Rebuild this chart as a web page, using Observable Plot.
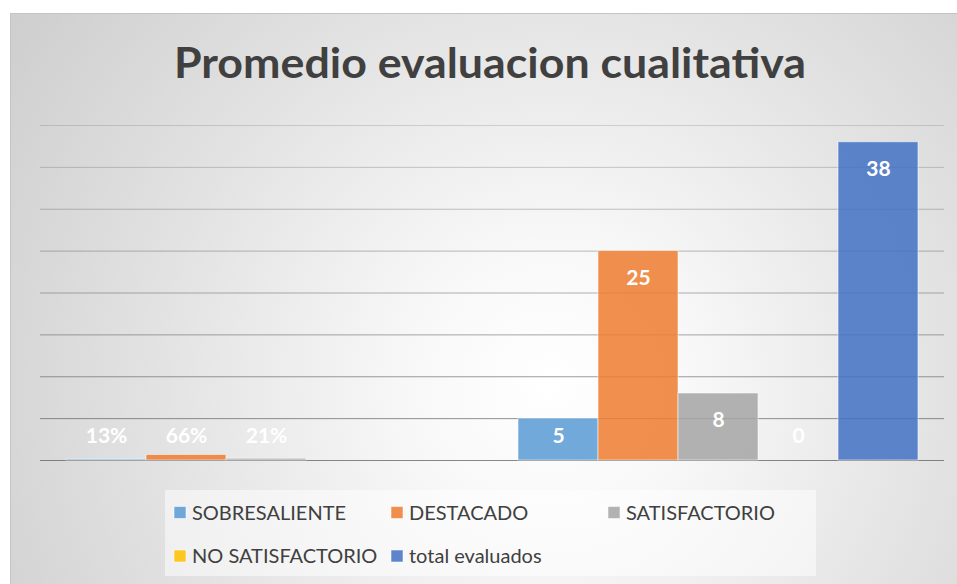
<!DOCTYPE html>
<html>
<head>
<meta charset="utf-8">
<script src="https://cdn.jsdelivr.net/npm/d3@7"></script>
<script src="https://cdn.jsdelivr.net/npm/@observablehq/plot@0.6"></script>
<style>
  html, body { margin: 0; padding: 0; background: #ffffff; }
  #wrap { position: relative; width: 957px; height: 584px; overflow: hidden; font-family: Lato, "Open Sans", sans-serif; }
  #frame { position: absolute; left: 10px; top: 13px; width: 960px; height: 590px;
    border-left: 1px solid #c4c4c4; border-top: 1px solid #c4c4c4;
    background: radial-gradient(circle at 540px 370px, #ffffff 0px, #f8f8f8 140px, #e2e2e2 400px, #cfcfcf 640px); }
  #chart { position: absolute; left: 0; top: 0; }
  #overlay { position: absolute; left: 0; top: 0; pointer-events: none; }
</style>
</head>
<body>
<div id="wrap">
  <div id="frame"></div>
  <div id="chart"></div>
  <svg id="overlay" width="957" height="584"></svg>
</div>
<script>
// ---- data ----
const title = "Promedio evaluacion cualitativa";
const groups = ["1", "2"];
const series = ["SOBRESALIENTE", "DESTACADO", "SATISFACTORIO", "NO SATISFACTORIO", "total evaluados"];
const colors = ["#5B9BD5", "#ED7D31", "#A5A5A5", "#FFC000", "#4472C4"];
const percentValues = [0.13, 0.66, 0.21, null, null];
const percentLabels = ["13%", "66%", "21%", null, null];
const countValues = [5, 25, 8, 0, 38];
const countLabels = ["5", "25", "8", "0", "38"];
const yTicks = [0, 5, 10, 15, 20, 25, 30, 35, 40];

// ---- table ----
const rows = [];
series.forEach((s, i) => {
  rows.push({group: groups[0], series: s, value: percentValues[i], label: percentLabels[i]});
  rows.push({group: groups[1], series: s, value: countValues[i], label: countLabels[i]});
});
// Excel "inside end" labels: a bit below bar top, kept above the baseline for short bars
rows.forEach(d => { d.labelPos = d.value == null ? null : Math.max(d.value - 3.24, 2.9); });

const chart = Plot.plot({
  width: 957,
  height: 480,
  marginLeft: 40,
  marginRight: 13,
  marginTop: 125,
  marginBottom: 20,
  style: {background: "transparent", fontFamily: "Lato, 'Open Sans', sans-serif", overflow: "visible"},
  fx: {domain: groups, padding: 0, axis: null},
  x: {domain: series, paddingInner: 0, paddingOuter: 0.325, axis: null},
  y: {domain: [0, 40], axis: null},
  color: {domain: series, range: colors},
  marks: [
    Plot.ruleY(yTicks, {stroke: "#5a5a5a", strokeOpacity: d => 0.22 + 0.5 * (1 - d / 40)}),
    Plot.barY(rows.filter(d => d.value != null && d.value > 0), {
      fx: "group", x: "series", y: "value", fill: "series", fillOpacity: 0.86,
      stroke: "#ffffff", strokeOpacity: 0.55, strokeWidth: 1
    }),
    Plot.text(rows.filter(d => d.label != null), {
      fx: "group", x: "series", y: "labelPos", text: "label",
      fill: "#ffffff", fontSize: 21, fontWeight: "bold"
    })
  ]
});
document.getElementById("chart").appendChild(chart);

// ---- title and legend ----
const ov = d3.select("#overlay");
ov.append("text")
  .attr("x", 490).attr("y", 78)
  .attr("text-anchor", "middle")
  .attr("font-family", "Lato, 'Open Sans', sans-serif")
  .attr("font-weight", 700)
  .attr("font-size", 42)
  .attr("fill", "#404040")
  .attr("textLength", 632)
  .attr("lengthAdjust", "spacingAndGlyphs")
  .text(title);

ov.append("rect")
  .attr("x", 165).attr("y", 490).attr("width", 651).attr("height", 86)
  .attr("fill", "#ffffff").attr("fill-opacity", 0.5);

const colX = [174, 391, 608];
const rowY = [512.5, 556];
series.forEach((s, i) => {
  const cx = colX[i % 3], cy = rowY[Math.floor(i / 3)];
  const g = ov.append("g");
  g.append("rect")
    .attr("x", cx).attr("y", cy - 6).attr("width", 12).attr("height", 12)
    .attr("fill", colors[i]).attr("fill-opacity", 0.86)
    .attr("stroke", "#ffffff").attr("stroke-opacity", 0.55);
  g.append("text")
    .attr("x", cx + 18).attr("y", cy + 7)
    .attr("font-family", "Lato, 'Open Sans', sans-serif")
    .attr("font-size", 20)
    .attr("fill", "#404040")
    .text(s);
});
</script>
</body>
</html>
